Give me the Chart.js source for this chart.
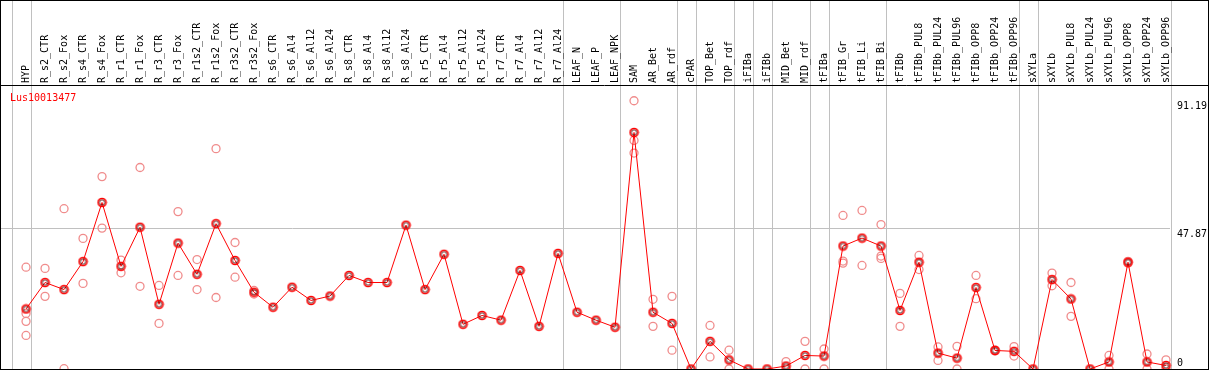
<!DOCTYPE html>
<html>
<head>
<meta charset="utf-8">
<script src="https://cdn.jsdelivr.net/npm/chart.js@4.4.0/dist/chart.umd.min.js"></script>
<style>
  html, body { margin: 0; padding: 0; background: #fff; }
</style>
</head>
<body>
<canvas id="exprChart" width="1209" height="370"></canvas>
<script>
const geneName = 'Lus10013477';

const samples = ['HYP', 'R_s2_CTR', 'R_s2_Fox', 'R_s4_CTR', 'R_s4_Fox', 'R_r1_CTR', 'R_r1_Fox', 'R_r3_CTR', 'R_r3_Fox',
  'R_r1s2_CTR', 'R_r1s2_Fox', 'R_r3s2_CTR', 'R_r3s2_Fox', 'R_s6_CTR', 'R_s6_Al4', 'R_s6_Al12', 'R_s6_Al24',
  'R_s8_CTR', 'R_s8_Al4', 'R_s8_Al12', 'R_s8_Al24', 'R_r5_CTR', 'R_r5_Al4', 'R_r5_Al12', 'R_r5_Al24',
  'R_r7_CTR', 'R_r7_Al4', 'R_r7_Al12', 'R_r7_Al24', 'LEAF_N', 'LEAF_P', 'LEAF_NPK', 'SAM', 'AR_Bet', 'AR_rdf',
  'cPAR', 'TOP_Bet', 'TOP_rdf', 'iFIBa', 'iFIBb', 'MID_Bet', 'MID_rdf', 'tFIBa', 'tFIB_Gr', 'tFIB_Li', 'tFIB_Bi',
  'tFIBb', 'tFIBb_PUL8', 'tFIBb_PUL24', 'tFIBb_PUL96', 'tFIBb_OPP8', 'tFIBb_OPP24', 'tFIBb_OPP96',
  'sXYLa', 'sXYLb', 'sXYLb_PUL8', 'sXYLb_PUL24', 'sXYLb_PUL96', 'sXYLb_OPP8', 'sXYLb_OPP24', 'sXYLb_OPP96'];

// mean expression per sample
const meanValues = [20.4, 29.4, 27.0, 36.5, 56.6, 34.9, 48.2, 22.0, 42.8, 32.2, 49.4, 36.9, 26.1,
  21.0, 27.8, 23.3, 24.8, 31.8, 29.4, 29.4, 48.9, 27.0, 39.0, 15.2, 18.2, 16.6, 33.5, 14.5, 39.3,
  19.3, 16.6, 14.2, 80.4, 19.3, 15.5, 0, 9.4, 3.1, 0, 0, 1.0, 4.6, 4.4, 41.8, 44.5, 41.8,
  19.9, 36.3, 5.4, 3.7, 27.7, 6.3, 6.0, 0, 30.4, 23.8, 0, 2.4, 36.3, 2.4, 1.2];

// individual replicates (null = none shown)
const repA = [34.6, 34.2, 54.5, 44.4, 65.4, 37.0, 68.5, 28.4, 53.5, 37.2, 74.9, 43.0, 26.7,
  null, null, null, null, null, null, null, null, null, null, null, null, null, null, null, null, null, null, null,
  91.19, 23.7, 24.7, null, 14.8, 6.4, null, null, 2.5, 9.4, 6.8, 52.2, 53.9, 49.1,
  25.7, 38.6, 7.5, 7.7, 31.8, 6.5, 7.6, null, 32.6, 29.4, null, 4.6, 36.6, 5.1, 3.1];
const repB = [18.9, 24.7, 0.1, 29.1, 47.9, 32.7, 28.1, 15.5, 31.8, 27.0, 24.3, 31.2, 25.5,
  null, null, null, null, null, null, null, null, null, null, null, null, null, null, null, null, null, null, null,
  77.7, 14.5, 6.4, null, 4.1, 0, null, null, 0, 0, 0, 36.7, 35.2, 38.4,
  14.5, 33.8, 2.9, 0, 23.9, 6.1, 4.4, null, 28.3, 17.9, null, 0, 36.0, 0, 0];
// [sample index, value] for the few samples with more than two replicates
const extraReps = [[0, 16.2], [0, 11.4], [32, 73.4], [43, 36.0], [45, 37.6]];

const yTicks = [0, 47.87, 91.19];
// last sample index of each group (vertical separators)
const groupEnds = [-1, 0, 28, 31, 34, 35, 37, 38, 39, 41, 42, 45, 52, 53, 60];

const monoFont = { family: 'DejaVu Sans Mono', size: 10 };

const meanPoints = meanValues.map((v, i) => ({ x: i, y: v }));
const repPoints = [];
[repA, repB].forEach(arr => arr.forEach((v, i) => { if (v !== null) repPoints.push({ x: i, y: v }); }));
extraReps.forEach(([i, v]) => repPoints.push({ x: i, y: v }));

function ringMarker() {
  const c = document.createElement('canvas');
  c.width = 11; c.height = 11;
  const g = c.getContext('2d');
  g.strokeStyle = '#ff0000'; g.lineWidth = 1.6;
  g.beginPath(); g.arc(5.5, 5.5, 4, 0, Math.PI * 2); g.stroke();
  g.strokeStyle = '#400000'; g.lineWidth = 0.8;
  g.beginPath(); g.arc(5.5, 5.5, 2.6, 0, Math.PI * 2); g.stroke();
  return c;
}

const framePlugin = {
  id: 'frame',
  beforeDraw(chart) {
    const { ctx, scales: { x }, chartArea } = chart;
    ctx.save();
    ctx.strokeStyle = '#c0c0c0';
    ctx.lineWidth = 1;
    groupEnds.forEach(g => {
      const px = Math.round(x.getPixelForValue(g + 0.25)) + 0.5;
      ctx.beginPath();
      ctx.moveTo(px, 0);
      ctx.lineTo(px, chartArea.bottom);
      ctx.stroke();
    });
    ctx.restore();
  },
  afterDraw(chart) {
    const { ctx, chartArea, width } = chart;
    ctx.save();
    ctx.strokeStyle = '#000';
    ctx.lineWidth = 1;
    ctx.strokeRect(0.5, 0.5, width - 1, chartArea.bottom);
    ctx.beginPath();
    ctx.moveTo(0, chartArea.top - 0.5);
    ctx.lineTo(width, chartArea.top - 0.5);
    ctx.stroke();
    ctx.fillStyle = '#ff0000';
    ctx.font = '10px "DejaVu Sans Mono"';
    ctx.textBaseline = 'middle';
    ctx.fillText(geneName, 10, chartArea.top + 12);
    ctx.restore();
  }
};

new Chart(document.getElementById('exprChart').getContext('2d'), {
  type: 'scatter',
  data: {
    datasets: [{
      label: 'mean',
      data: meanPoints,
      showLine: true,
      borderColor: '#ff0000',
      borderWidth: 1,
      pointStyle: ringMarker(),
      pointRadius: 4,
      clip: false
    }, {
      label: 'replicates',
      data: repPoints,
      showLine: false,
      borderColor: '#f08c8c',
      backgroundColor: 'rgba(0,0,0,0)',
      borderWidth: 1.3,
      pointRadius: 4,
      clip: false
    }]
  },
  options: {
    responsive: false,
    animation: false,
    layout: { autoPadding: false, padding: { left: 0, right: 0, top: 0, bottom: 1 } },
    plugins: {
      legend: { display: false },
      tooltip: { enabled: false }
    },
    scales: {
      x: {
        type: 'linear',
        position: 'top',
        min: -1.37,
        max: 60.21,
        afterBuildTicks: s => { s.ticks = samples.map((_, i) => ({ value: i })); },
        afterFit: s => { s.height = 86; s.paddingLeft = 0; s.paddingRight = 0; },
        grid: { display: false, drawTicks: false },
        border: { display: false },
        ticks: {
          autoSkip: false,
          minRotation: 90,
          maxRotation: 90,
          padding: 3,
          labelOffset: 12,
          color: '#000',
          font: monoFont,
          callback: v => samples[v]
        }
      },
      y: {
        position: 'right',
        min: 0,
        max: 96.2,
        afterBuildTicks: s => { s.ticks = yTicks.map(v => ({ value: v })); },
        afterFit: s => { s.width = 39; s.paddingTop = 0; s.paddingBottom = 0; },
        grid: {
          drawTicks: false,
          color: c => (c.tick && c.tick.value === 47.87) ? '#c0c0c0' : 'rgba(0,0,0,0)'
        },
        border: { display: false },
        ticks: {
          padding: 7,
          color: '#000',
          font: monoFont,
          callback: v => v === 0 ? ['0', ''] : ['', String(v)]
        }
      }
    }
  },
  plugins: [framePlugin]
});
</script>
</body>
</html>
